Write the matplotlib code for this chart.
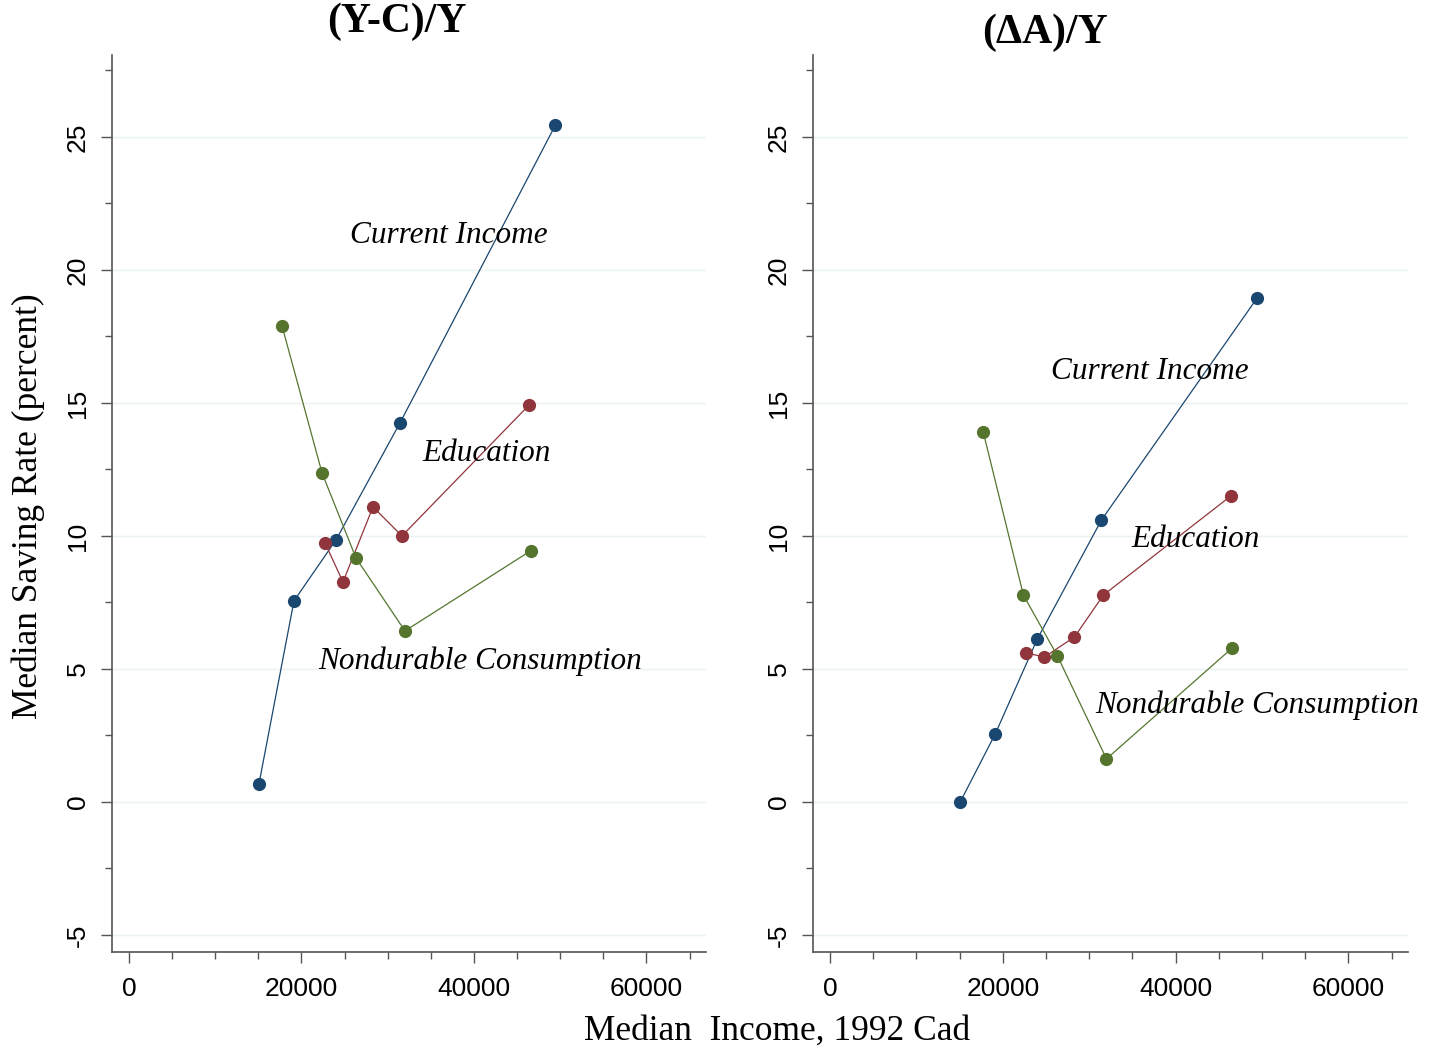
import matplotlib
matplotlib.use("Agg")
import matplotlib.pyplot as plt
from matplotlib.ticker import MultipleLocator

# Data
income = [15070, 19130, 24000, 31420, 49450]
edu_income = [22725, 24810, 28290, 31650, 46380]
cons_income = [17740, 22380, 26320, 32000, 46560]

yc_current = [0.68, 7.56, 9.85, 14.25, 25.45]
yc_edu = [9.74, 8.27, 11.09, 10.0, 14.92]
yc_cons = [17.9, 12.37, 9.17, 6.43, 9.44]

da_current = [0.0, 2.56, 6.13, 10.6, 18.95]
da_edu = [5.6, 5.45, 6.2, 7.78, 11.5]
da_cons = [13.9, 7.78, 5.49, 1.62, 5.79]

titles = ["(Y-C)/Y", "(\u0394A)/Y"]
series_labels = ["Current Income", "Education", "Nondurable Consumption"]
label_pos_left = [(37100, 21.3), (41500, 13.1), (40700, 5.3)]
label_pos_right = [(37000, 16.2), (42300, 9.85), (49400, 3.65)]

x_ticks = [0, 20000, 40000, 60000]
y_ticks = [-5, 0, 5, 10, 15, 20, 25]

BLUE = "#1a476f"
RED = "#90353b"
GREEN = "#55752f"
SPINE = "#555555"

fig = plt.figure(figsize=(14.3, 10.52), dpi=100)
axL = fig.add_axes([112/1430, 1-952/1052, 594/1430, 897/1052])
axR = fig.add_axes([813/1430, 1-952/1052, 595/1430, 897/1052])

panels = [
    (axL, yc_current, yc_edu, yc_cons, label_pos_left),
    (axR, da_current, da_edu, da_cons, label_pos_right),
]

for ax, cur, edu, cons, lpos in panels:
    ax.set_xlim(-1970, 66900)
    ax.set_ylim(-5.64, 28.08)
    for y in y_ticks:
        ax.axhline(y, color="#eaf2f3", lw=1.0, zorder=0)
    kw = dict(lw=0.9, marker="o", markersize=9.5, markeredgewidth=0)
    ax.plot(income, cur, color=BLUE, **kw, zorder=3)
    ax.plot(edu_income, edu, color=RED, **kw, zorder=3)
    ax.plot(cons_income, cons, color=GREEN, **kw, zorder=3)
    for (tx, ty), lab in zip(lpos, series_labels):
        ax.text(tx, ty, lab, ha="center", va="center", fontsize=22.5,
                family="Liberation Serif", style="italic", color="black", zorder=4)
    for s in ["top", "right"]:
        ax.spines[s].set_visible(False)
    for s in ["left", "bottom"]:
        ax.spines[s].set_color(SPINE)
        ax.spines[s].set_linewidth(1.2)
    ax.set_xticks(x_ticks)
    ax.set_xticklabels([str(v) for v in x_ticks], family="Liberation Sans", fontsize=19)
    ax.set_yticks(y_ticks)
    ax.set_yticklabels([str(v) for v in y_ticks], family="Liberation Sans", fontsize=19,
                       rotation=90, va="center")
    ax.xaxis.set_minor_locator(MultipleLocator(5000))
    ax.yaxis.set_minor_locator(MultipleLocator(2.5))
    ax.tick_params(which="major", length=8, width=1, color=SPINE)
    ax.tick_params(which="minor", length=5, width=1, color=SPINE)
    ax.tick_params(axis="x", which="major", pad=10)
    ax.tick_params(axis="y", which="major", pad=8)

fig.text(397/1430, 1-22/1052, titles[0], ha="center", va="center", fontsize=30,
         family="Liberation Serif", weight="bold")
fig.text(1045/1430, 1-33/1052, titles[1], ha="center", va="center", fontsize=30,
         family="Liberation Serif", weight="bold")
fig.text(28/1430, 1-506/1052, "Median Saving Rate (percent)", rotation=90, ha="center",
         va="center", fontsize=25.5, family="Liberation Serif")
fig.text(777/1430, 1-1031/1052, "Median  Income, 1992 Cad", ha="center", va="center",
         fontsize=25.5, family="Liberation Serif")

fig.savefig("out.png", dpi=100)
